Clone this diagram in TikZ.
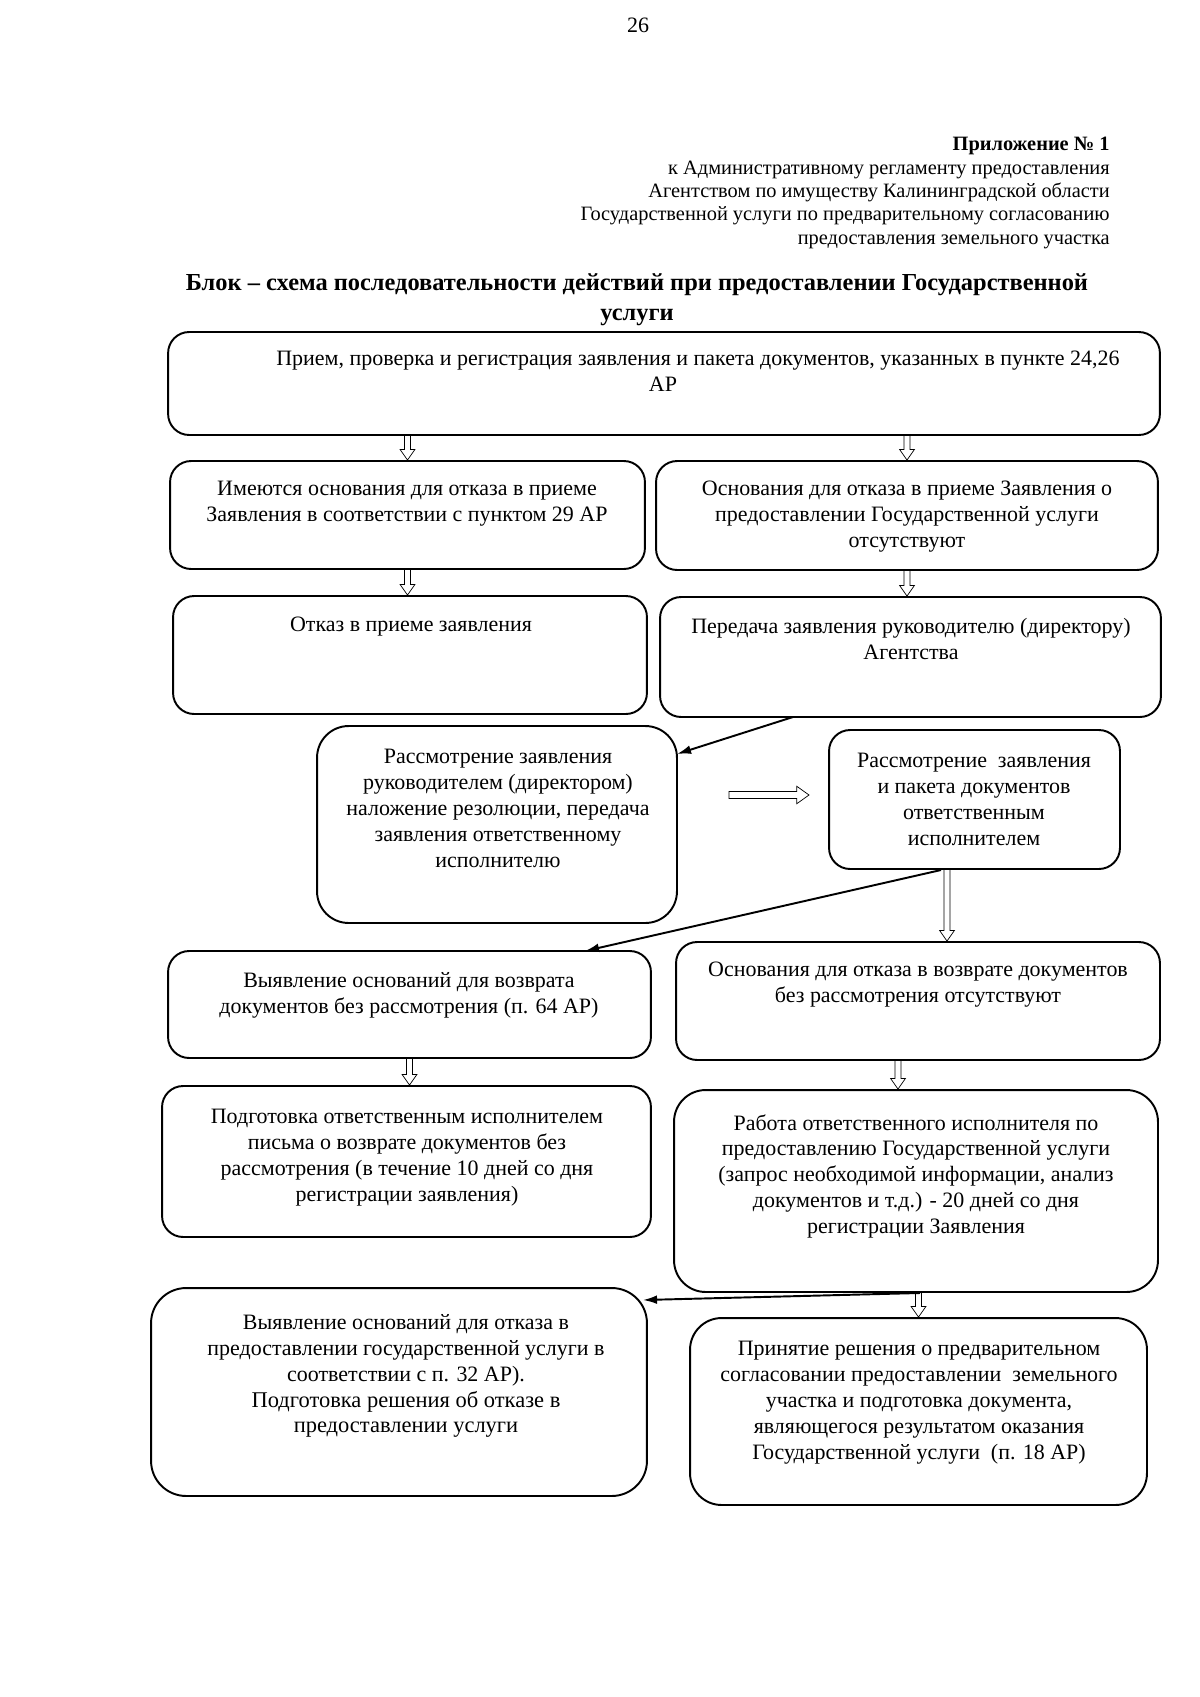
\documentclass[tikz,border=0pt]{standalone}
\usepackage{fontspec}
\setmainfont{Liberation Serif}
\usetikzlibrary{calc,arrows.meta,positioning}

\begin{document}
\begin{tikzpicture}[x=0.02cm,y=-0.02cm,
    box/.style={draw, line width=1.1pt, rounded corners=12pt, inner sep=0pt},
    txt/.style={anchor=north, align=center, inner sep=0pt, font=\fontsize{12.5}{14.74}\selectfont},
    link/.style={line width=1.1pt, -{Latex[length=8pt,width=5pt]}},
    hdown/.style={line width=0.6pt, to path={let \p1=(\tikztostart), \p2=(\tikztotarget) in
        (\x1-1.7pt,\y1) -- (\x1-1.7pt,\y2+6pt) -- (\x1-4.2pt,\y2+6pt) -- (\x1,\y2)
        -- (\x1+4.2pt,\y2+6pt) -- (\x1+1.7pt,\y2+6pt) -- (\x1+1.7pt,\y1)}},
    hright/.style={line width=0.6pt, to path={let \p1=(\tikztostart), \p2=(\tikztotarget) in
        (\x1,\y1+2pt) -- (\x2-7pt,\y1+2pt) -- (\x2-7pt,\y1+5pt) -- (\x2,\y1)
        -- (\x2-7pt,\y1-5pt) -- (\x2-7pt,\y1-2pt) -- (\x1,\y1-2pt) -- cycle}}]

    \useasboundingbox (0,0) rectangle (1200,1697);

    % page header
    \node[font=\fontsize{12.5}{14}\selectfont] (page) at (638,25) {26};
    \node[anchor=north east, align=right, inner sep=0pt, font=\fontsize{11.6}{13.3}\selectfont] (annex) at (1110,137)
        {\textbf{Приложение № 1}\\к Административному регламенту предоставления\\Агентством по имуществу Калининградской области\\Государственной услуги по предварительному согласованию\\предоставления земельного участка};
    \node[anchor=north, align=center, inner sep=0pt, font=\fontsize{13.9}{17.5}\bfseries] (title) at (637,273)
        {Блок – схема последовательности действий при предоставлении Государственной\\услуги};

    % boxes
    \node[box, minimum width=19.84cm, minimum height=2.06cm] (top) at (664,383.5) {};
    \node[box, minimum width=9.5cm,  minimum height=2.16cm] (lt2) at (407.5,515) {};
    \node[box, minimum width=10.04cm, minimum height=2.18cm] (rt2) at (907,515.5) {};
    \node[box, minimum width=9.48cm, minimum height=2.36cm] (lt3) at (410,655) {};
    \node[box, minimum width=10.02cm, minimum height=2.4cm] (rt3) at (910.5,657) {};
    \node[box, rounded corners=18pt, minimum width=7.2cm, minimum height=3.94cm] (ml) at (497,824.5) {};
    \node[box, minimum width=5.82cm, minimum height=2.78cm] (mr) at (974.5,799.5) {};
    \node[box, minimum width=9.66cm, minimum height=2.14cm] (lt4) at (409.5,1004.5) {};
    \node[box, minimum width=9.68cm, minimum height=2.36cm] (rt4) at (918,1001) {};
    \node[box, minimum width=9.78cm, minimum height=3.02cm] (lt5) at (406.5,1161.5) {};
    \node[box, rounded corners=18pt, minimum width=9.68cm, minimum height=4.04cm] (rt5) at (916,1191) {};
    \node[box, rounded corners=20pt, minimum width=9.92cm, minimum height=4.16cm] (lt6) at (399,1392) {};
    \node[box, rounded corners=18pt, minimum width=9.14cm, minimum height=3.74cm] (rt6) at (918.5,1411.5) {};

    % texts
    \node[txt] (topt) at (698,351) {Прием, проверка и регистрация заявления и пакета документов, указанных в пункте 24,26\\АР\hspace*{1.4cm}};
    \node[txt] (lt2t) at (407,481) {Имеются основания для отказа в приеме\\Заявления в соответствии с пунктом 29 АР};
    \node[txt] (rt2t) at (907,481) {Основания для отказа в приеме Заявления о\\предоставлении Государственной услуги\\отсутствуют};
    \node[txt] (lt3t) at (411,617) {Отказ в приеме заявления};
    \node[txt] (rt3t) at (911,618) {Передача заявления руководителю (директору)\\Агентства};
    \node[txt] (mlt) at (498,749) {Рассмотрение заявления\\руководителем (директором)\\наложение резолюции, передача\\заявления ответственному\\исполнителю};
    \node[txt] (mrt) at (974,753) {Рассмотрение\ \ заявления\\и пакета документов\\ответственным\\исполнителем};
    \node[txt] (lt4t) at (409,972) {Выявление оснований для возврата\\документов без рассмотрения (п. 64 АР)};
    \node[txt] (rt4t) at (918,962) {Основания для отказа в возврате документов\\без рассмотрения отсутствуют};
    \node[txt] (lt5t) at (407,1109) {Подготовка ответственным исполнителем\\письма о возврате документов без\\рассмотрения (в течение 10 дней со дня\\регистрации заявления)};
    \node[txt] (rt5t) at (916,1114) {Работа ответственного исполнителя по\\предоставлению Государственной услуги\\(запрос необходимой информации, анализ\\документов и т.д.) - 20 дней со дня\\регистрации Заявления};
    \node[txt] (lt6t) at (406,1314) {Выявление оснований для отказа в\\предоставлении государственной услуги в\\соответствии с п. 32 АР).\\{\fontsize{12.8}{15.5}\selectfont Подготовка решения об отказе в}\\{\fontsize{12.8}{15.5}\selectfont предоставлении услуги}};
    \node[txt] (rt6t) at (919,1341) {Принятие решения о предварительном\\согласовании предоставлении\ \ земельного\\участка и подготовка документа,\\являющегося результатом оказания\\Государственной услуги\ \ (п. 18 АР)};

    % hollow arrows
    \draw (top.south -| lt2.north) to[hdown] (lt2.north);
    \draw (top.south -| rt2.north) to[hdown] (rt2.north);
    \draw (lt2.south) to[hdown] (lt2.south |- lt3.north);
    \draw (rt2.south) to[hdown] (rt2.south |- rt3.north);
    \coordinate (h5s) at (729,795);
    \coordinate (h5e) at (809,795);
    \draw (h5s) to[hright] (h5e);
    \coordinate (h6s) at (947,869);
    \draw (h6s) to[hdown] (h6s |- rt4.north);
    \draw (lt4.south) to[hdown] (lt4.south |- lt5.north);
    \coordinate (h8s) at (898,1060);
    \draw (h8s) to[hdown] (h8s |- rt5.north);
    \draw (rt5.south -| rt6.north) to[hdown] (rt6.north);

    % solid arrows
    \coordinate (a1s) at (793,717);
    \coordinate (a1e) at (677,754);
    \draw[link] (a1s) -- (a1e);
    \coordinate (a2s) at (941,870);
    \coordinate (a2e) at (585,951);
    \draw[link] (a2s) -- (a2e);
    \coordinate (a3s) at (920,1293);
    \coordinate (a3e) at (643,1300);
    \draw[link] (a3s) -- (a3e);

\end{tikzpicture}
\end{document}
